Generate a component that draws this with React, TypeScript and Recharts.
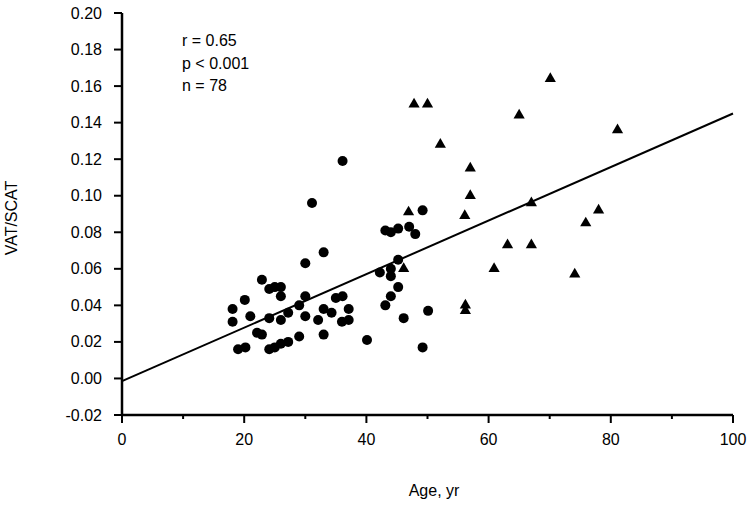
import { ScatterChart, Scatter, XAxis, YAxis, Label } from "recharts";

const circleAge = [
  18.1, 18.1, 19.0, 20.1, 20.2, 21.0, 22.1, 22.9, 22.9, 24.1, 25.0, 26.0, 26.0, 24.1,
  26.0, 24.1, 25.0, 26.0, 27.2, 27.2, 29.0, 29.0, 30.0, 30.0, 30.0, 31.1, 32.1, 33.0,
  33.0, 34.3, 33.0, 35.0, 36.1, 36.0, 37.1, 37.1, 36.1, 40.1, 42.2, 44.0, 44.0, 45.2,
  45.2, 44.0, 43.1, 46.1, 50.1, 49.2, 43.1, 44.0, 45.2, 47.0, 48.0, 49.2,
];
const circleRatio = [
  0.038, 0.031, 0.016, 0.043, 0.017, 0.034, 0.025, 0.054, 0.024, 0.049, 0.050, 0.050, 0.045, 0.033,
  0.032, 0.016, 0.017, 0.019, 0.020, 0.036, 0.040, 0.023, 0.063, 0.045, 0.034, 0.096, 0.032, 0.069,
  0.038, 0.036, 0.024, 0.044, 0.045, 0.031, 0.032, 0.038, 0.119, 0.021, 0.058, 0.060, 0.056, 0.065,
  0.050, 0.045, 0.040, 0.033, 0.037, 0.017, 0.081, 0.080, 0.082, 0.083, 0.079, 0.092,
];
const triangleAge = [
  47.8, 50.0, 65.0, 70.1, 52.1, 81.1, 57.0, 57.0, 46.9, 56.1, 67.0, 78.0, 75.9, 63.1,
  67.0, 60.9, 74.1, 46.1, 56.2, 56.2,
];
const triangleRatio = [
  0.150, 0.150, 0.144, 0.164, 0.128, 0.136, 0.115, 0.100, 0.091, 0.089, 0.096, 0.092, 0.085, 0.073,
  0.073, 0.060, 0.057, 0.060, 0.040, 0.037,
];
const fitAge = [0, 100];
const fitRatio = [-0.0015, 0.145];

const xTicks = [0, 10, 20, 30, 40, 50, 60, 70, 80, 90, 100];
const yTicks = [
  -0.02, -0.01, 0, 0.01, 0.02, 0.03, 0.04, 0.05, 0.06, 0.07, 0.08, 0.09, 0.1, 0.11, 0.12,
  0.13, 0.14, 0.15, 0.16, 0.17, 0.18, 0.19, 0.2,
];
const stats = ["r = 0.65", "p < 0.001", "n = 78"];

const circles = circleAge.map((age, i) => ({ age, ratio: circleRatio[i] }));
const triangles = triangleAge.map((age, i) => ({ age, ratio: triangleRatio[i] }));
const fit = fitAge.map((age, i) => ({ age, ratio: fitRatio[i] }));

const FONT = "Arial, 'Liberation Sans', Helvetica, sans-serif";

function XTick({ x, y, payload }: any) {
  const major = payload.value % 20 === 0;
  return (
    <g>
      <line x1={x} y1={y} x2={x} y2={y + (major ? 8 : 4)} stroke="#000" strokeWidth={2} />
      {major && (
        <text x={x} y={y + 30} textAnchor="middle" fontSize={16} fontFamily={FONT} fill="#000">
          {payload.value}
        </text>
      )}
    </g>
  );
}

function YTick({ x, y, payload }: any) {
  const major = Math.round(payload.value * 100) % 2 === 0;
  return (
    <g>
      <line x1={x} y1={y} x2={x - (major ? 8 : 4)} y2={y} stroke="#000" strokeWidth={2} />
      {major && (
        <text x={x - 20} y={y + 5.5} textAnchor="end" fontSize={16} fontFamily={FONT} fill="#000">
          {payload.value.toFixed(2)}
        </text>
      )}
    </g>
  );
}

const Dot = ({ cx, cy }: any) => <circle cx={cx} cy={cy} r={5} fill="#000" />;
const Tri = ({ cx, cy }: any) => (
  <polygon points={`${cx},${cy - 6.5} ${cx - 5.6},${cy + 3.2} ${cx + 5.6},${cy + 3.2}`} fill="#000" />
);
const NoDot = () => <g />;

export default function App() {
  return (
    <div style={{ position: "absolute", left: 0, top: 0, width: 750, height: 506, background: "#fff" }}>
      <ScatterChart width={750} height={506} margin={{ top: 13, right: 17, bottom: 61, left: 62 }}>
        <XAxis
          type="number"
          dataKey="age"
          domain={[0, 100]}
          ticks={xTicks}
          height={30}
          tickSize={0}
          tickMargin={0}
          tickLine={false}
          tick={(p: any) => <XTick {...p} />}
          axisLine={{ stroke: "#000", strokeWidth: 2.5 }}
        >
          <Label
            content={() => (
              <text x={434} y={496} textAnchor="middle" fontSize={16} fontFamily={FONT} fill="#000">
                Age, yr
              </text>
            )}
          />
        </XAxis>
        <YAxis
          type="number"
          dataKey="ratio"
          domain={[-0.02, 0.2]}
          ticks={yTicks}
          width={60}
          tickSize={0}
          tickMargin={0}
          tickLine={false}
          tick={(p: any) => <YTick {...p} />}
          axisLine={{ stroke: "#000", strokeWidth: 2.5 }}
        >
          <Label
            content={() => (
              <text
                x={16.5}
                y={218}
                transform="rotate(-90 16.5 218)"
                textAnchor="middle"
                fontSize={16}
                fontFamily={FONT}
                fill="#000"
              >
                VAT/SCAT
              </text>
            )}
          />
        </YAxis>
        <Scatter data={fit} line={{ stroke: "#000", strokeWidth: 2 }} shape={NoDot} isAnimationActive={false} />
        <Scatter data={circles} shape={Dot} isAnimationActive={false} />
        <Scatter data={triangles} shape={Tri} isAnimationActive={false} />
      </ScatterChart>
      <svg
        width={750}
        height={506}
        style={{ position: "absolute", left: 0, top: 0, pointerEvents: "none" }}
      >
        {stats.map((s, i) => (
          <text key={s} x={182} y={46 + i * 22.5} fontSize={16} fontFamily={FONT} fill="#000">
            {s}
          </text>
        ))}
      </svg>
    </div>
  );
}
